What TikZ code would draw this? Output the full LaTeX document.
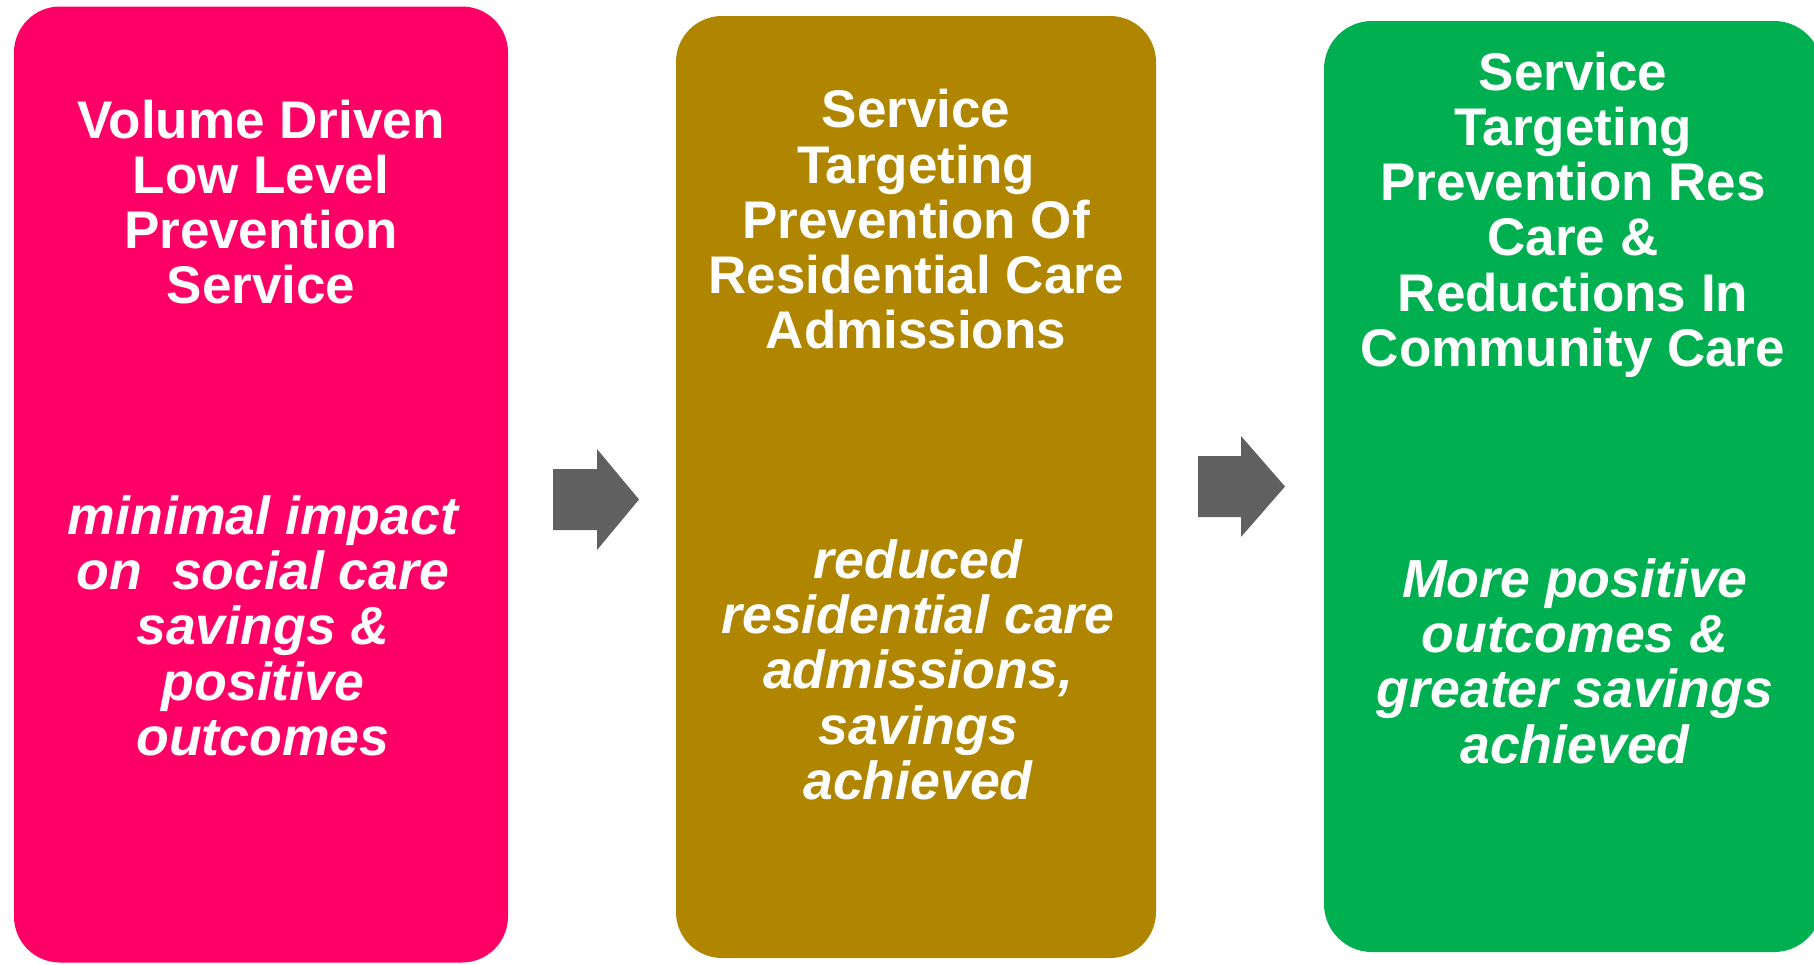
\documentclass[tikz,border=0pt]{standalone}
\usepackage{fontspec}
\setmainfont{Liberation Sans}
\definecolor{pinkbox}{HTML}{FF0066}
\definecolor{goldbox}{HTML}{B08600}
\definecolor{greenbox}{HTML}{00AF50}
\definecolor{arrowgray}{HTML}{606060}
\newcommand{\stacklines}[1]{\begin{tabular}[t]{@{}c@{}}#1\end{tabular}}
\begin{document}
\begin{tikzpicture}[x=0.5pt,y=-0.5pt,
  box/.style={rectangle, rounded corners=23pt, inner sep=0pt, draw=none},
  head/.style={text=white, inner sep=0pt, anchor=base, font=\fontsize{26.5}{27.65}\selectfont\bfseries},
  note/.style={head, font=\fontsize{26.8}{27.65}\selectfont\bfseries\itshape},
  blockarrow/.style={fill=arrowgray}]
\useasboundingbox (0,0) rectangle (1814,964);
\clip (0,0) rectangle (1814,964);
% boxes
\node[box, fill=pinkbox, minimum width=247pt, minimum height=478pt] (b1) at (261,484.5) {};
\node[box, fill=goldbox, minimum width=240pt, minimum height=471pt] (b2) at (916,487) {};
\node[box, fill=greenbox, rounded corners=24pt, minimum width=249pt, minimum height=465.5pt] (b3) at (1573,486.5) {};
% block arrows
\fill[blockarrow] (553,469) -- (597,469) -- (597,449) -- (639,499.5) -- (597,550) -- (597,530) -- (553,530) -- cycle;
\fill[blockarrow] (1198,456) -- (1241,456) -- (1241,436) -- (1285,486.5) -- (1241,537) -- (1241,517) -- (1198,517) -- cycle;
% texts
\node[head] (h1) at (261,138) {\stacklines{Volume Driven\\Low Level\\Prevention\\Service}};
\node[note] (n1) at (263,534) {\stacklines{minimal impact\\on\ \ social care\\savings \&\\positive\\outcomes}};
\node[head] (h2) at (916,127.7) {\stacklines{Service\\Targeting\\Prevention Of\\Residential Care\\Admissions}};
\node[note] (n2) at (918,578) {\stacklines{reduced\\residential care\\admissions,\\savings\\achieved}};
\node[head] (h3) at (1573,90) {\stacklines{Service\\Targeting\\Prevention Res\\Care \&\\Reductions In\\Community Care}};
\node[note] (n3) at (1575,597) {\stacklines{More positive\\outcomes \&\\greater savings\\achieved}};
\end{tikzpicture}
\end{document}
